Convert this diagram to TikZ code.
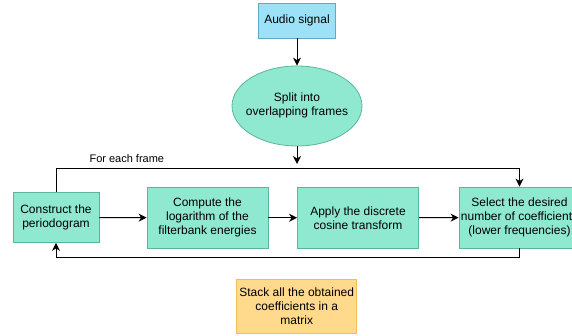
\documentclass[tikz,border=0pt]{standalone}
\usepackage{fontspec}
\setmainfont{Liberation Sans}
\usetikzlibrary{shapes.geometric,arrows.meta}
\definecolor{mintfill}{RGB}{143,232,208}
\definecolor{mintline}{RGB}{90,182,152}
\definecolor{bluefill}{RGB}{156,225,248}
\definecolor{blueline}{RGB}{100,168,200}
\definecolor{orangefill}{RGB}{255,217,140}
\definecolor{orangeline}{RGB}{238,190,90}
\tikzset{
  stepbox/.style={draw=mintline,fill=mintfill,line width=0.8pt,align=center,
    minimum width=121,minimum height=61,inner sep=0pt},
  flow/.style={-{Stealth[length=8pt,width=8pt,inset=2.5pt]},line width=1pt}
}
\begin{document}
\begin{tikzpicture}[x=1pt,y=-1pt,font=\fontsize{12}{14}\selectfont]
  \clip (0,0) rectangle (572,336);
  \node[draw=blueline,fill=bluefill,line width=0.8pt,minimum width=77,minimum height=35] (audio) at (297,20.5) {Audio signal};
  \node[ellipse,draw=mintline,fill=mintfill,line width=0.8pt,minimum width=130,minimum height=80,inner sep=0pt] (split) at (297,106)
    {\makebox[0pt]{\begin{tabular}{@{}c@{}}Split into\\overlapping frames\end{tabular}}};
  \node[stepbox,minimum width=86,minimum height=50] (construct) at (56,217.5) {Construct the\\periodogram};
  \node[stepbox] (compute) at (207.5,217.75) {Compute the\\logarithm of the\\filterbank energies};
  \node[stepbox] (apply) at (358,217.75) {Apply the discrete\\cosine transform};
  \node[stepbox] (select) at (519.5,217.5) {Select the desired\\number of coefficients\\(lower frequencies)};
  \node[draw=orangeline,fill=orangefill,line width=0.8pt,minimum width=120,minimum height=54,align=center,inner sep=0pt] (stack) at (296.7,306) {Stack all the obtained\\coefficients in a\\matrix};
  \node[anchor=west,font=\fontsize{11}{13}\selectfont] (label) at (86,159) {For each frame};

  % main flow
  \coordinate (loopin) at (297,164);
  \draw[flow] (audio) -- (split);
  \draw[flow] (split) -- (loopin);
  \draw[flow] (construct) -- (compute);
  \draw[flow] (compute) -- (apply);
  \draw[flow] (apply) -- (select);
  % loop
  \draw[flow] (construct.north) -- (56,168.3) -| (select.north);
  \draw[flow] (select.south) -- (519.5,257.3) -| (construct.south);
\end{tikzpicture}
\end{document}
